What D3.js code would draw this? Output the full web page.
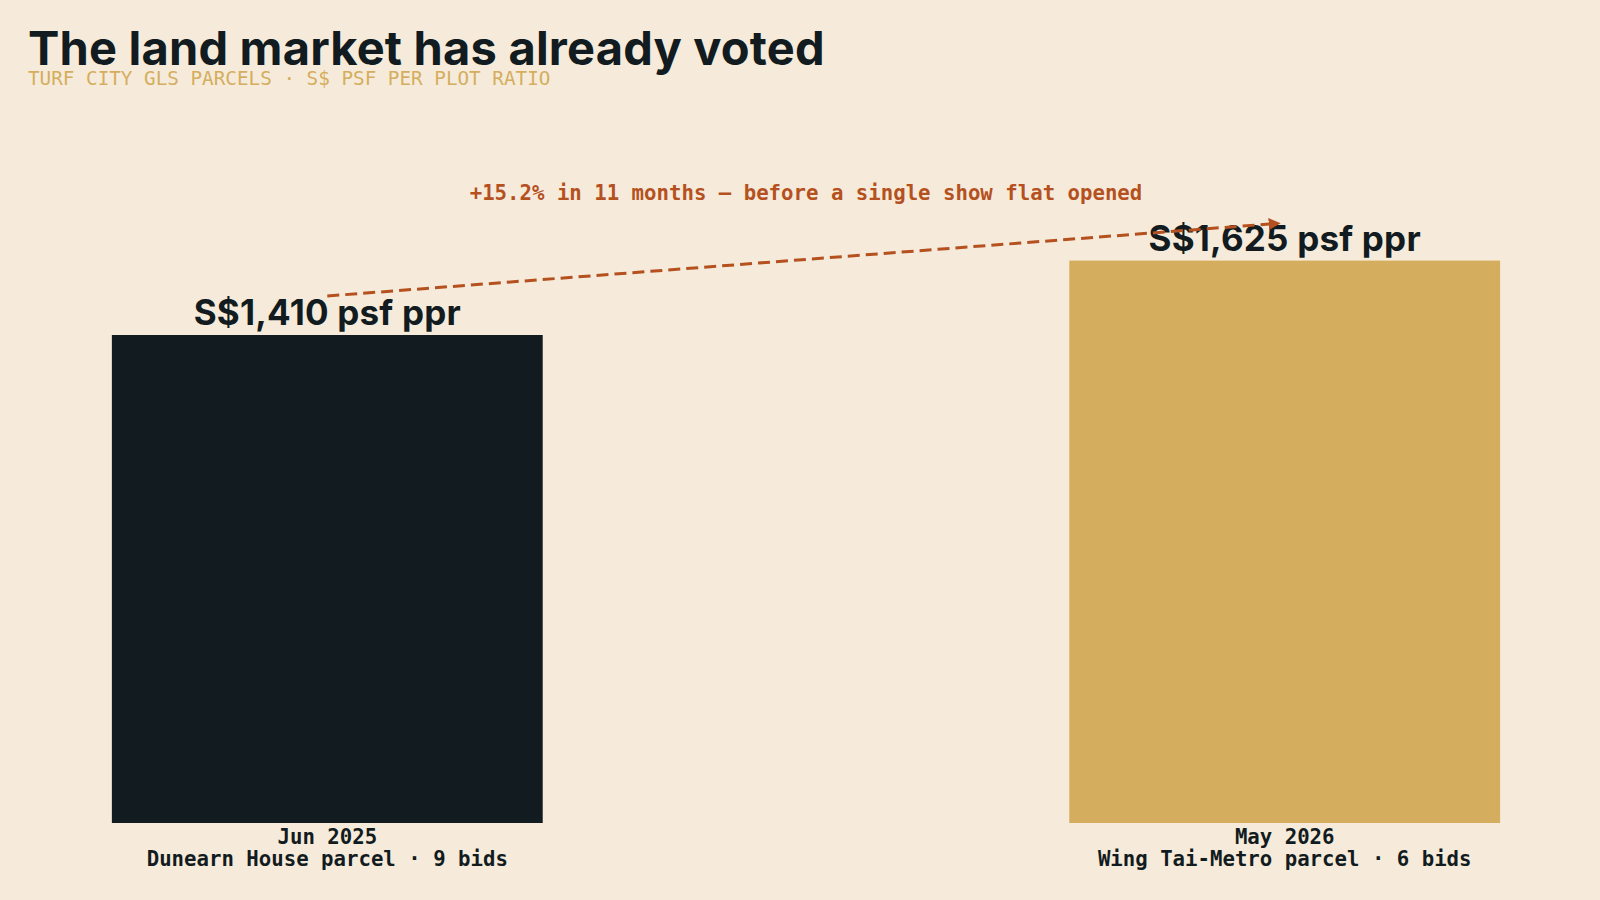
<!doctype html>
<html>
    <head>
        <title>The land market has already voted</title>
        <style>
            body {
                margin: 0;
                overflow: hidden;
                background: #f6ebda;
            }
        </style>
    </head>
    <body>
        <script src="https://cdn.jsdelivr.net/npm/d3@7"></script>
        <script>

            // data
            const dates = ['Jun 2025', 'May 2026'];
            const parcels = ['Dunearn House parcel · 9 bids', 'Wing Tai-Metro parcel · 6 bids'];
            const psfPpr = [1410, 1625];
            const barColors = ['#111b20', '#d4ae5e'];
            const note = '+15.2% in 11 months — before a single show flat opened';

            const width = 1600;
            const height = 900;
            const sans = 'Inter, "Noto Sans", sans-serif';
            const mono = '"DejaVu Sans Mono", "Liberation Mono", monospace';
            const accent = '#b5501f';
            const ink = '#121b20';

            const svg = d3.select('body')
                .append('svg')
                .attr('width', width)
                .attr('height', height);

            svg.append('rect')
                .attr('width', width)
                .attr('height', height)
                .attr('fill', '#f6ebda');

            // titles
            svg.append('text')
                .attr('x', 28)
                .attr('y', 65)
                .attr('font-family', sans)
                .attr('font-weight', 700)
                .attr('font-size', 47)
                .attr('letter-spacing', 0.2)
                .attr('fill', ink)
                .text('The land market has already voted');

            svg.append('text')
                .attr('x', 28)
                .attr('y', 85)
                .attr('font-family', mono)
                .attr('font-size', 19.3)
                .attr('fill', '#d4ae5e')
                .text('TURF CITY GLS PARCELS · S$ PSF PER PLOT RATIO');

            // scales
            const x = d3.scaleBand()
                .domain(dates)
                .range([64, 1548])
                .paddingInner(0.55)
                .paddingOuter(0.05);

            const y = d3.scaleLinear()
                .domain([0, 1625 * 1.15])
                .range([823, 823 - 1625 * 1.15 * (488 / 1410)]);

            const g = svg.append('g');

            g.selectAll('rect.bar')
                .data(psfPpr)
                .join('rect')
                .attr('class', 'bar')
                .attr('x', (d, i) => x(dates[i]))
                .attr('y', (d) => y(d))
                .attr('width', x.bandwidth())
                .attr('height', (d) => y(0) - y(d))
                .attr('fill', (d, i) => barColors[i]);

            // category labels under bars
            const cat = g.selectAll('text.cat')
                .data(dates)
                .join('text')
                .attr('class', 'cat')
                .attr('text-anchor', 'middle')
                .attr('font-family', mono)
                .attr('font-weight', 700)
                .attr('font-size', 20.7)
                .attr('fill', ink);
            cat.append('tspan')
                .attr('x', (d) => x(d) + x.bandwidth() / 2)
                .attr('y', 844)
                .text((d) => d);
            cat.append('tspan')
                .attr('x', (d) => x(d) + x.bandwidth() / 2)
                .attr('y', 866)
                .text((d, i) => parcels[i]);

            // arrow
            svg.append('defs').append('marker')
                .attr('id', 'arrow')
                .attr('viewBox', '0 0 10 10')
                .attr('refX', 5)
                .attr('refY', 5)
                .attr('markerWidth', 4)
                .attr('markerHeight', 4)
                .attr('orient', 'auto')
                .append('path')
                .attr('d', 'M0,0 L10,5 L0,10 z')
                .attr('fill', accent);

            const cx = (i) => x(dates[i]) + x.bandwidth() / 2;

            svg.append('line')
                .attr('x1', cx(0))
                .attr('y1', y(psfPpr[0]) - 39)
                .attr('x2', cx(1) - 10)
                .attr('y2', y(psfPpr[1]) - 37)
                .attr('stroke', accent)
                .attr('stroke-width', 3)
                .attr('stroke-dasharray', '12 6')
                .attr('marker-end', 'url(#arrow)');

            // value labels
            g.selectAll('text.val')
                .data(psfPpr)
                .join('text')
                .attr('class', 'val')
                .attr('x', (d, i) => cx(i))
                .attr('y', (d) => y(d) - 10)
                .attr('text-anchor', 'middle')
                .attr('font-family', sans)
                .attr('font-weight', 700)
                .attr('font-size', 35)
                .attr('letter-spacing', 0.2)
                .attr('fill', ink)
                .text((d) => 'S$' + d3.format(',')(d) + ' psf ppr');

            svg.append('text')
                .attr('x', (cx(0) + cx(1)) / 2)
                .attr('y', 200)
                .attr('text-anchor', 'middle')
                .attr('font-family', mono)
                .attr('font-weight', 700)
                .attr('font-size', 20.7)
                .attr('fill', accent)
                .text(note);

        </script>
    </body>
</html>
